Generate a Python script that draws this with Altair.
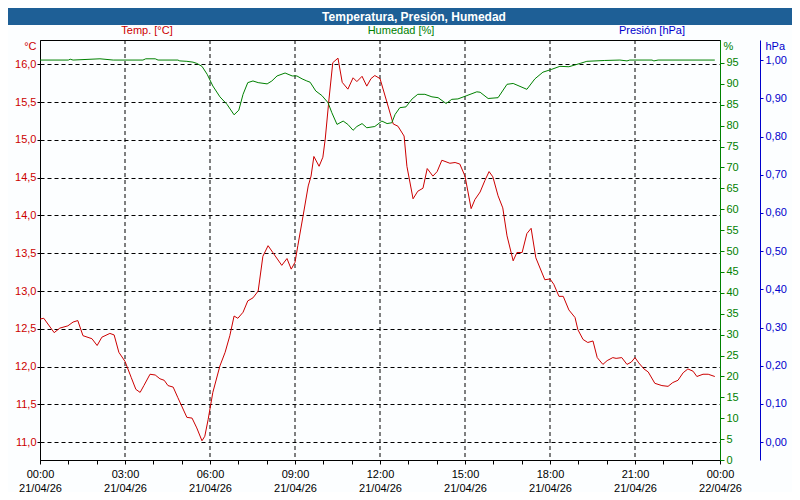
import altair as alt
import pandas as pd

FONT = "Liberation Sans"
RED = "#CC0000"
GREEN = "#008000"
BLUE = "#0000CC"
BAR = "#1E5F96"

# ---- data (minutes after 21/04/26 00:00) ----
temp_minutes = [0, 8, 30, 42, 59, 70, 80, 91, 110, 121,
                131, 148, 157, 167, 180, 193, 203, 212, 220, 233,
                244, 254, 263, 271, 282, 292, 311, 322, 332, 343,
                349, 356, 366, 381, 392, 402, 411, 419, 430, 440,
                451, 462, 472, 483, 493, 512, 523, 532, 540, 546,
                557, 568, 574, 580, 591, 599, 604, 612, 620, 631,
                640, 652, 663, 671, 682, 692, 701, 709, 720, 735,
                748, 758, 771, 777, 790, 800, 811, 820, 832, 841,
                851, 868, 879, 889, 900, 913, 921, 932, 942, 951,
                959, 970, 980, 989, 1002, 1010, 1021, 1031, 1040, 1050,
                1069, 1080, 1088, 1099, 1108, 1120, 1133, 1139, 1150, 1160,
                1171, 1180, 1192, 1201, 1213, 1220, 1232, 1243, 1252, 1260,
                1268, 1279, 1288, 1302, 1317, 1330, 1340, 1351, 1362, 1372,
                1383, 1391, 1404, 1415, 1429]
temp_values = [12.63, 12.64, 12.45, 12.51, 12.54, 12.59, 12.61, 12.41, 12.37, 12.28,
               12.39, 12.44, 12.42, 12.19, 12.07, 11.86, 11.70, 11.66, 11.75, 11.90,
               11.89, 11.84, 11.82, 11.75, 11.73, 11.59, 11.33, 11.32, 11.19, 11.02,
               11.08, 11.30, 11.66, 12.01, 12.19, 12.41, 12.67, 12.64, 12.72, 12.87,
               12.91, 13.00, 13.46, 13.60, 13.51, 13.34, 13.43, 13.29, 13.38, 13.60,
               13.99, 14.39, 14.52, 14.78, 14.65, 14.77, 15.01, 15.54, 16.02, 16.08,
               15.76, 15.67, 15.82, 15.77, 15.84, 15.71, 15.81, 15.85, 15.81, 15.49,
               15.21, 15.18, 15.05, 14.65, 14.22, 14.32, 14.36, 14.62, 14.52, 14.58,
               14.73, 14.69, 14.70, 14.68, 14.52, 14.09, 14.21, 14.31, 14.46, 14.58,
               14.51, 14.26, 14.10, 13.73, 13.40, 13.51, 13.51, 13.76, 13.83, 13.44,
               13.15, 13.16, 13.09, 12.93, 12.93, 12.75, 12.65, 12.49, 12.36, 12.32,
               12.34, 12.12, 12.03, 12.08, 12.12, 12.11, 12.12, 12.03, 12.06, 12.12,
               12.05, 11.97, 11.93, 11.78, 11.75, 11.74, 11.79, 11.82, 11.92, 11.97,
               11.94, 11.87, 11.90, 11.90, 11.87]

hum_minutes = [0, 60, 64, 70, 127, 155, 218, 224, 244, 250,
               292, 296, 311, 324, 332, 343, 354, 366, 381, 396,
               411, 421, 430, 440, 451, 462, 481, 491, 502, 519,
               534, 544, 555, 565, 572, 584, 597, 610, 618, 629,
               642, 652, 663, 671, 682, 692, 709, 724, 735, 745,
               752, 762, 775, 788, 800, 815, 830, 843, 860, 872,
               885, 904, 925, 932, 949, 970, 989, 1002, 1031, 1048,
               1065, 1084, 1101, 1120, 1144, 1158, 1196, 1228, 1243, 1249,
               1296, 1300, 1309, 1429]
hum_values = [95.7, 95.7, 95.9, 95.7, 96.0, 95.7, 95.7, 96.0, 96.0, 95.7,
              95.7, 95.5, 95.4, 95.2, 94.9, 94.2, 92.3, 89.5, 86.9, 85.1,
              82.6, 83.7, 87.5, 90.3, 90.7, 90.3, 90.0, 90.7, 91.9, 92.6,
              91.9, 91.9, 91.2, 90.7, 90.4, 88.3, 87.2, 85.5, 83.1, 80.3,
              81.1, 80.3, 78.9, 79.8, 80.5, 79.5, 79.8, 81.1, 80.5, 80.7,
              82.7, 84.3, 84.5, 86.4, 87.5, 87.5, 86.9, 86.7, 85.3, 86.3,
              86.4, 87.2, 88.1, 88.0, 86.5, 86.7, 89.9, 90.1, 88.7, 91.2,
              92.8, 93.5, 94.2, 94.1, 94.9, 95.4, 95.6, 95.7, 95.5, 95.7,
              95.7, 95.5, 95.7, 95.7]

temp_ticks = [11.0, 11.5, 12.0, 12.5, 13.0, 13.5, 14.0, 14.5, 15.0, 15.5, 16.0]
hum_ticks = [0, 5, 10, 15, 20, 25, 30, 35, 40, 45, 50, 55, 60, 65, 70, 75, 80, 85, 90, 95]
pressure_ticks = [0.0, 0.1, 0.2, 0.3, 0.4, 0.5, 0.6, 0.7, 0.8, 0.9, 1.0]
grid_hours = [3, 6, 9, 12, 15, 18, 21]

day0 = pd.Timestamp("2026-04-21")
temp_df = pd.DataFrame({"time": day0 + pd.to_timedelta(temp_minutes, unit="min"),
                        "temp": temp_values})
hum_df = pd.DataFrame({"time": day0 + pd.to_timedelta(hum_minutes, unit="min"),
                       "hum": hum_values})
grid_df = pd.DataFrame({"time": day0 + pd.to_timedelta(grid_hours, unit="h")})
pres_df = pd.DataFrame({"p": pressure_ticks})

x_domain = [alt.DateTime(year=2026, month=4, date=21, hours=0),
            alt.DateTime(year=2026, month=4, date=22, hours=0)]
x_values = [alt.DateTime(year=2026, month=4, date=21, hours=h) for h in range(24)] + \
           [alt.DateTime(year=2026, month=4, date=22, hours=0)]

x_axis = alt.Axis(
    values=x_values,
    labelExpr="hours(datum.value) % 3 == 0 ? [timeFormat(datum.value, '%H:%M'), timeFormat(datum.value, '%d/%m/%y')] : ''",
    grid=False, domainColor="black", tickColor="black", tickSize=4,
    labelColor="black", labelFont=FONT, labelFontSize=11, labelLineHeight=14,
    labelPadding=4, labelBaseline="top", labelOverlap=False, labelFlush=False,
    title=None,
)
x_enc = alt.X("time:T", scale=alt.Scale(domain=x_domain), axis=x_axis)

vgrid = alt.Chart(grid_df).mark_rule(color="black", strokeWidth=1, strokeDash=[4, 3]).encode(x=x_enc)

temp_line = alt.Chart(temp_df).mark_line(color=RED, strokeWidth=1).encode(
    x=x_enc,
    y=alt.Y("temp:Q",
            scale=alt.Scale(domain=[10.766, 16.32], nice=False, zero=False),
            axis=alt.Axis(orient="left", values=temp_ticks,
                          labelExpr="replace(format(datum.value, '.1f'), '.', ',')",
                          grid=True, gridColor="black", gridDash=[4, 3], gridOpacity=1, gridWidth=1,
                          domainColor="black", tickColor="black", tickSize=3,
                          labelColor=RED, labelFont=FONT, labelFontSize=11, labelPadding=1,
                          title="°C", titleColor=RED, titleFont=FONT, titleFontSize=11,
                          titleFontWeight="normal", titleAngle=0, titleAlign="right",
                          titleBaseline="middle", titleX=-4, titleY=6)),
)

hum_line = alt.Chart(hum_df).mark_line(color=GREEN, strokeWidth=1).encode(
    x=x_enc,
    y=alt.Y("hum:Q",
            scale=alt.Scale(domain=[0, 100.5], nice=False, zero=False),
            axis=alt.Axis(orient="right", values=hum_ticks, grid=False,
                          domainColor=GREEN, domainWidth=1, tickColor=GREEN, tickSize=4,
                          labelColor=GREEN, labelFont=FONT, labelFontSize=11, labelPadding=2,
                          title="%", titleColor=GREEN, titleFont=FONT, titleFontSize=11,
                          titleFontWeight="normal", titleAngle=0, titleAlign="left",
                          titleBaseline="middle", titleX=3, titleY=6)),
)

pres_layer = alt.Chart(pres_df).mark_point(opacity=0).encode(
    y=alt.Y("p:Q",
            scale=alt.Scale(domain=[-0.047, 1.053], nice=False, zero=False),
            axis=alt.Axis(orient="right", offset=40, values=pressure_ticks, grid=False,
                          labelExpr="replace(format(datum.value, '.2f'), '.', ',')",
                          domainColor=BLUE, tickColor=BLUE, tickSize=3,
                          labelColor=BLUE, labelFont=FONT, labelFontSize=11, labelPadding=2,
                          title="hPa", titleColor=BLUE, titleFont=FONT, titleFontSize=11,
                          titleFontWeight="normal", titleAngle=0, titleAlign="left",
                          titleBaseline="middle", titleX=5, titleY=6)),
)


def one_row(text):
    return pd.DataFrame({"label": [text]})


title_bar = alt.Chart(one_row("")).mark_rect(color=BAR).encode(
    x=alt.value(-32), x2=alt.value(752), y=alt.value(-32), y2=alt.value(-15))


def label(text, x, y, color, bold=False, size=11):
    return alt.Chart(one_row(text)).mark_text(
        color=color, font=FONT, fontSize=size, fontWeight="bold" if bold else "normal",
        align="center", baseline="middle").encode(
        x=alt.value(x), y=alt.value(y), text="label:N")


chart = alt.layer(
    vgrid, temp_line, hum_line, pres_layer, title_bar,
    label("Temperatura, Presión, Humedad", 374, -23, "white", bold=True, size=12),
    label("Temp. [°C]", 107, -9, RED),
    label("Humedad [%]", 361, -9, GREEN),
    label("Presión [hPa]", 612, -9, BLUE),
).resolve_scale(y="independent").properties(
    width=680, height=420,
    autosize=alt.AutoSizeParams(type="none"),
    padding={"left": 32, "top": 32, "right": 72, "bottom": 32},
    background="#FCFEFF",
).configure_view(stroke="black", strokeWidth=1)

chart.save("out.html", embed_options={"renderer": "svg", "actions": False})
